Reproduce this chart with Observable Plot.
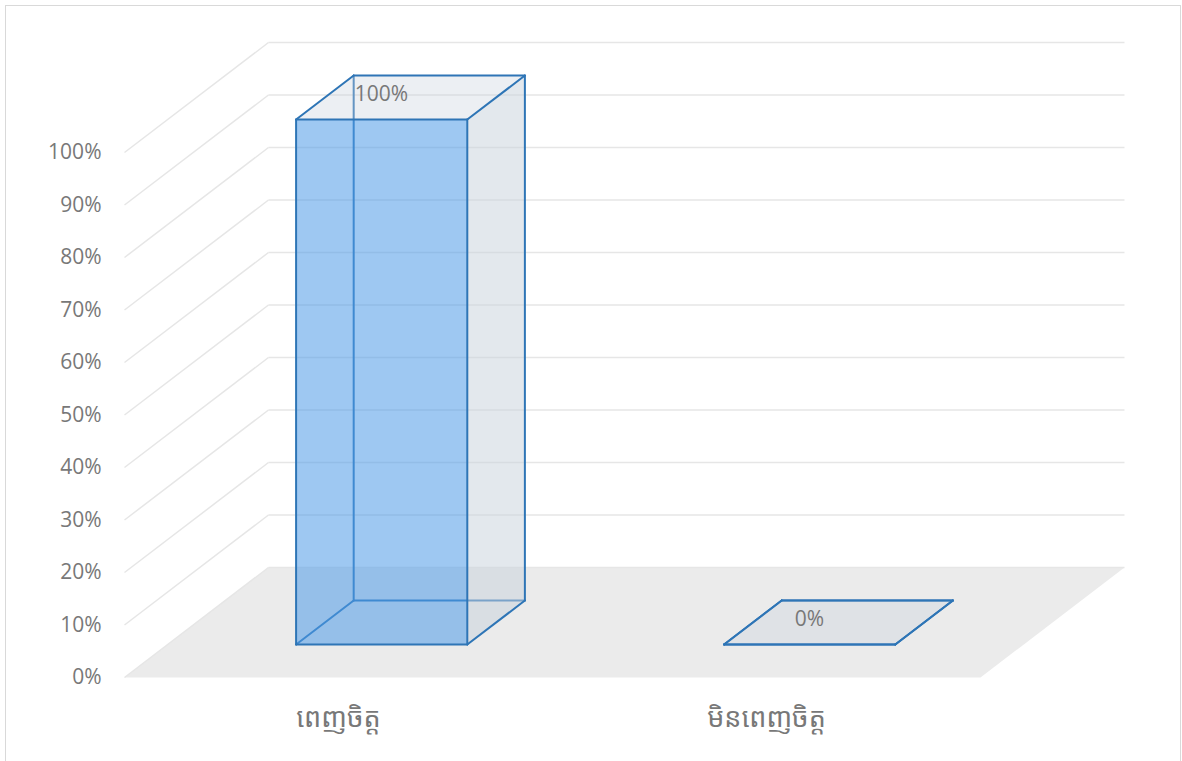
<!DOCTYPE html>
<html>
<head>
<meta charset="utf-8">
<script src="https://cdn.jsdelivr.net/npm/d3@7"></script>
<script src="https://cdn.jsdelivr.net/npm/@observablehq/plot@0.6"></script>
<style>
  html, body { margin: 0; padding: 0; background: #ffffff; }
  #wrap { position: relative; width: 1182px; height: 761px; overflow: hidden; }
  #border { position: absolute; left: 5px; top: 5px; width: 1176px; height: 800px;
            border: 1.5px solid #d9d9d9; box-sizing: border-box; }
  #chart { position: absolute; left: 0; top: 0; }
</style>
</head>
<body>
<div id="wrap"><div id="border"></div><div id="chart"></div></div>
<script>
// Satisfaction survey: share of respondents per answer
const categories = ["ពេញចិត្ត", "មិនពេញចិត្ត"];
const values = [1.00, 0.00];
const yTicks = [0, 0.1, 0.2, 0.3, 0.4, 0.5, 0.6, 0.7, 0.8, 0.9, 1.0];

// Oblique 3-D look: a depth z (0 = front edge, 1 = back wall) shifts a point
// right (in category units) and up (in value units).
const DEPTH_X = 0.3364;
const DEPTH_Y = 0.2095;
const BAR_WIDTH = 0.4;
const Z_FRONT = 0.3, Z_BACK = 0.7;
const n = categories.length;

const P = (x, v, z, id) => ({x: x + z * DEPTH_X, y: v + z * DEPTH_Y, id});

// floor of the plot box
const floor = [P(0, 0, 0, "floor"), P(n, 0, 0, "floor"), P(n, 0, 1, "floor"), P(0, 0, 1, "floor")];

// gridlines on the back wall and the left side wall
const grid = [];
yTicks.forEach((t, k) => {
  grid.push(P(0, t, 1, "b" + k), P(n, t, 1, "b" + k));
  grid.push(P(0, t, 0, "s" + k), P(0, t, 1, "s" + k));
});

// bar boxes
const hiddenEdges = [], visibleEdges = [], sideFaces = [], topFaces = [], frontFaces = [], labels = [];
values.forEach((v, i) => {
  const x0 = i + 0.5 - BAR_WIDTH / 2, x1 = i + 0.5 + BAR_WIDTH / 2;
  const zf = Z_FRONT, zb = Z_BACK;
  const edge = (list, a, b, key) => list.push(P(...a, key), P(...b, key));
  // edges seen through the translucent front face
  edge(hiddenEdges, [x0, 0, zb], [x1, 0, zb], `h${i}a`);
  edge(hiddenEdges, [x0, 0, zb], [x0, 0, zf], `h${i}b`);
  edge(hiddenEdges, [x0, 0, zb], [x0, v, zb], `h${i}c`);
  // outer edges
  edge(visibleEdges, [x0, 0, zf], [x1, 0, zf], `e${i}1`);
  edge(visibleEdges, [x1, 0, zf], [x1, v, zf], `e${i}2`);
  edge(visibleEdges, [x1, v, zf], [x0, v, zf], `e${i}3`);
  edge(visibleEdges, [x0, v, zf], [x0, 0, zf], `e${i}4`);
  edge(visibleEdges, [x1, v, zf], [x1, v, zb], `e${i}5`);
  edge(visibleEdges, [x1, v, zb], [x0, v, zb], `e${i}6`);
  edge(visibleEdges, [x0, v, zb], [x0, v, zf], `e${i}7`);
  edge(visibleEdges, [x1, 0, zf], [x1, 0, zb], `e${i}8`);
  edge(visibleEdges, [x1, 0, zb], [x1, v, zb], `e${i}9`);
  // faces
  sideFaces.push(P(x1, 0, zf, i), P(x1, 0, zb, i), P(x1, v, zb, i), P(x1, v, zf, i));
  topFaces.push(P(x0, v, zf, i), P(x1, v, zf, i), P(x1, v, zb, i), P(x0, v, zb, i));
  frontFaces.push(P(x0, 0, zf, i), P(x1, 0, zf, i), P(x1, v, zf, i), P(x0, v, zf, i));
  labels.push({...P(i + 0.5, v, 0.5, i), text: d3.format(".0%")(v)});
});

const numFont = "'Open Sans', 'Noto Sans', sans-serif";
const khmerFont = "'Noto Sans Khmer', 'Khmer OS', 'Khmer OS System', 'Leelawadee UI', 'DaunPenh', sans-serif";
const ink = "#787878";
const barEdge = "#2e75b6";

const chart = Plot.plot({
  width: 1182,
  height: 761,
  marginLeft: 124,
  marginRight: 202,
  marginTop: 152,
  marginBottom: 84,
  style: {fontFamily: numFont, background: "transparent", overflow: "visible"},
  x: {type: "linear", domain: [0, n], axis: null},
  y: {type: "linear", domain: [0, 1], axis: null},
  marks: [
    Plot.line(floor, {x: "x", y: "y", z: "id", fill: "#ebebeb", stroke: "none"}),
    Plot.line(grid, {x: "x", y: "y", z: "id", stroke: "#e6e6e6", strokeWidth: 1.5, strokeLinecap: "butt"}),
    Plot.line(hiddenEdges, {x: "x", y: "y", z: "id", stroke: barEdge, strokeWidth: 2}),
    Plot.line(sideFaces, {x: "x", y: "y", z: "id", fill: "#c8d2dc", fillOpacity: 0.5, stroke: "none"}),
    Plot.line(topFaces, {x: "x", y: "y", z: "id", fill: "#c8d2dc", fillOpacity: 0.35, stroke: "none"}),
    Plot.line(frontFaces, {x: "x", y: "y", z: "id", fill: "#4f9be8", fillOpacity: 0.55, stroke: "none"}),
    Plot.line(visibleEdges, {x: "x", y: "y", z: "id", stroke: barEdge, strokeWidth: 2}),
    Plot.text(labels, {x: "x", y: "y", text: "text", dx: -29, dy: -3, fontSize: 21, fill: ink}),
    Plot.axisY(yTicks, {tickSize: 0, tickPadding: 23, tickFormat: d3.format(".0%"), fontSize: 21, color: ink, label: null}),
    Plot.text(categories, {x: (d, i) => i + 0.5, y: () => 0, dy: 41, fontSize: 27, fill: ink, fontFamily: khmerFont})
  ]
});
document.getElementById("chart").appendChild(chart);
</script>
</body>
</html>
